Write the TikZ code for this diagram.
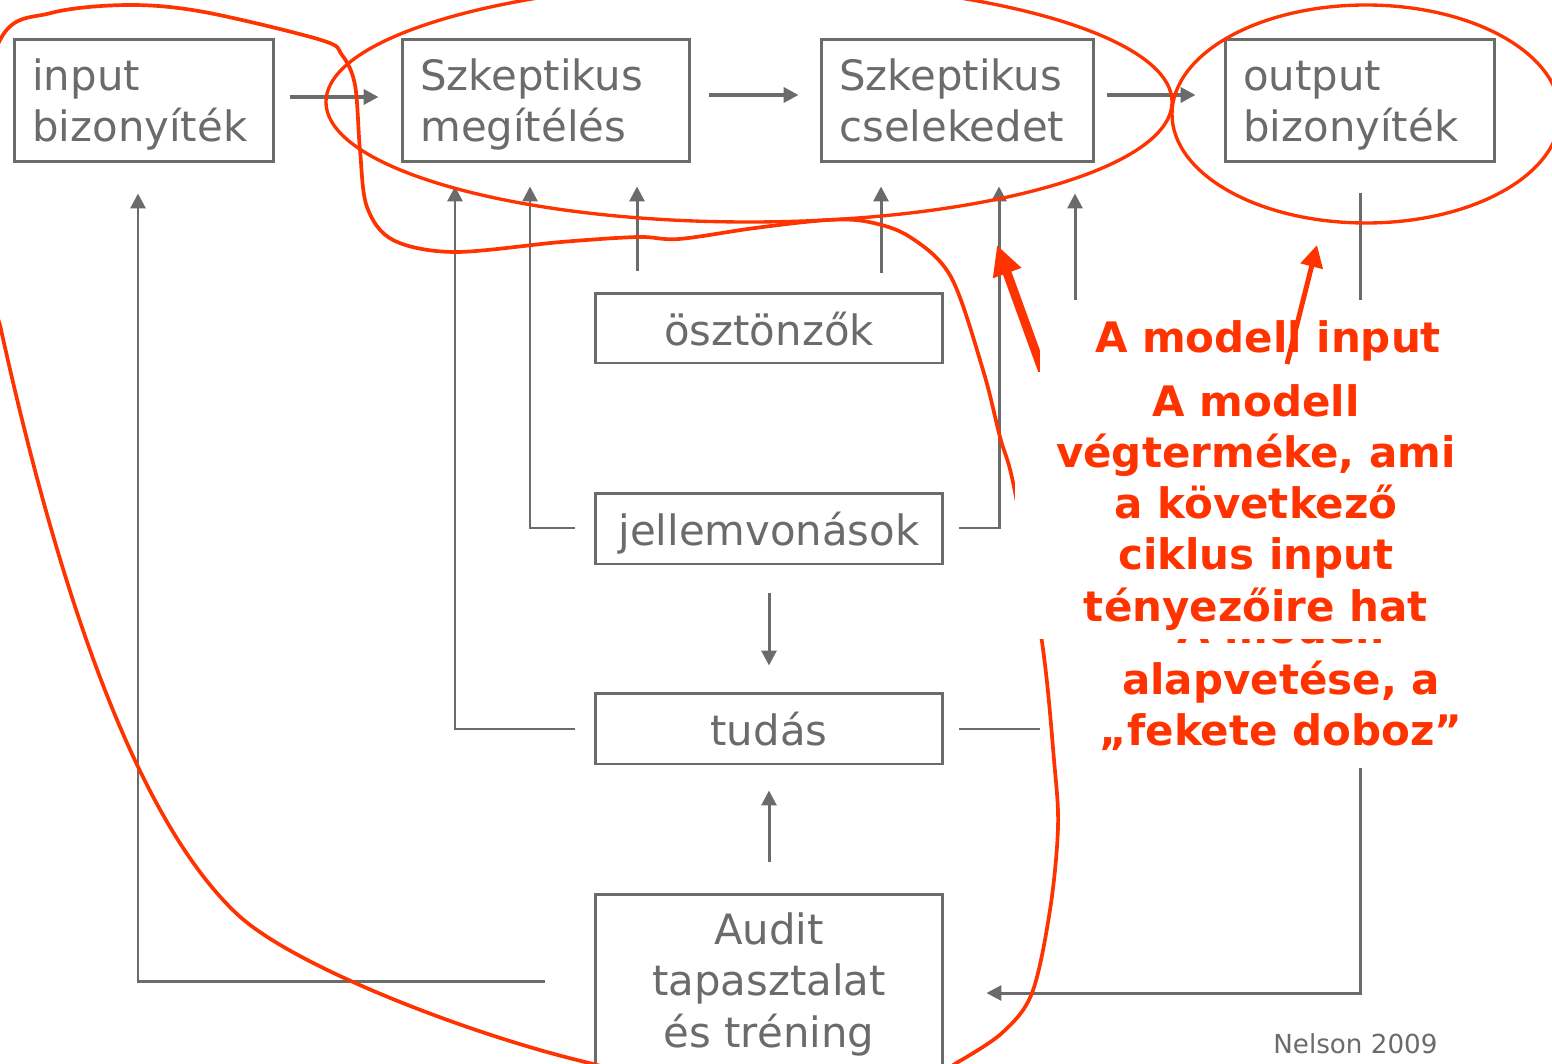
\documentclass[tikz,border=0pt]{standalone}
\usepackage{fontspec}
\setmainfont{DejaVu Sans}
\usetikzlibrary{arrows.meta}
\definecolor{ink}{HTML}{6B6B6B}
\definecolor{hl}{HTML}{FF3300}
\tikzset{
  boxst/.style={draw=ink, line width=1.7pt, inner sep=0pt},
  gtext/.style={text=ink, inner sep=0pt, font=\fontsize{23.8pt}{29.2pt}\selectfont},
  wire/.style={draw=ink, line width=1.7pt},
  link/.style={wire, -{Triangle[length=8.5pt,width=8.5pt]}},
  mainflow/.style={link, line width=2.3pt},
  ring/.style={draw=hl, line width=1.9pt},
  rtext/.style={text=hl, inner sep=0pt, align=center,
    font=\bfseries\fontsize{23.9pt}{29.05pt}\selectfont},
  bigpointer/.style={draw=hl, line width=5.1pt, -{Triangle[length=17pt,width=16pt]}},
  smallpointer/.style={draw=hl, line width=2.8pt, -{Triangle[length=12.5pt,width=12.5pt]}}
}
\begin{document}
\begin{tikzpicture}[x=0.02cm, y=-0.02cm]
\clip (0,0) rectangle (1552,1064);
\fill[white] (0,0) rectangle (1552,1064);

% boxes of the model
\node[boxst, minimum width=5.2cm,  minimum height=2.46cm] (inp) at (144,100.5) {};
\node[boxst, minimum width=5.76cm, minimum height=2.46cm] (jud) at (546,100.5) {};
\node[boxst, minimum width=5.46cm, minimum height=2.46cm] (act) at (957.5,100.5) {};
\node[boxst, minimum width=5.4cm,  minimum height=2.46cm] (out) at (1360,100.5) {};
\node[boxst, minimum width=6.96cm, minimum height=1.4cm]  (inc) at (769,328) {};
\node[boxst, minimum width=6.96cm, minimum height=1.42cm] (tra) at (769,528.5) {};
\node[boxst, minimum width=6.96cm, minimum height=1.42cm] (kno) at (769,728.5) {};
\node[boxst, minimum width=6.96cm, minimum height=4.32cm] (aud) at (769,1002) {};

% box labels (multi-line labels are placed by their last baseline)
\node[gtext, align=left, anchor=base west] (inpT) at (32,142)  {input\\bizonyíték};
\node[gtext, align=left, anchor=base west] (judT) at (420,142) {Szkeptikus\\megítélés};
\node[gtext, align=left, anchor=base west] (actT) at (839,142) {Szkeptikus\\cselekedet};
\node[gtext, align=left, anchor=base west] (outT) at (1243,142) {output\\bizonyíték};
\node[gtext, anchor=base] (incT) at (769,345) {ösztönzők};
\node[gtext, anchor=base] (traT) at (769,545) {jellemvonások};
\node[gtext, anchor=base] (knoT) at (769,745) {tudás};
\node[gtext, align=center, anchor=base] (audT) at (769,1047) {Audit\\tapasztalat\\és tréning};
\node[text=ink, inner sep=0pt, anchor=base west, font=\fontsize{14.9pt}{18pt}\selectfont]
  (src) at (1273,1053) {Nelson 2009};

% main flow
\draw[mainflow] ([shift={(15,-3.5)}]inp.east) -- ([shift={(-22,-3.5)}]jud.west);
\draw[mainflow] ([shift={(18,-5.5)}]jud.east) -- ([shift={(-21,-5.5)}]act.west);
\draw[mainflow] ([shift={(12,-5.5)}]act.east) -- ([shift={(-28,-5.5)}]out.west);

% influences
\draw[link] ([shift={(-132,-21)}]inc.north) -- ([shift={(91,23)}]jud.south);
\draw[link] ([shift={(112,-19)}]inc.north) -- ([shift={(-76.5,23)}]act.south);
\draw[link] ([shift={(-19,-0.5)}]tra.west) -| ([shift={(-16,23)}]jud.south);
\draw[link] ([shift={(15,-0.5)}]tra.east) -| ([shift={(41.5,23)}]act.south);
\draw[link] ([shift={(-19,0.5)}]kno.west) -| ([shift={(-91,23)}]jud.south);
\draw[link] ([shift={(15,0.5)}]kno.east) -| ([shift={(117.5,30)}]act.south);
\draw[link] ([shift={(-49,-21)}]aud.west) -| ([shift={(-6,30)}]inp.south);
\draw[link] ([shift={(0,28)}]tra.south) -- ([shift={(0,-26)}]kno.north);
\draw[link] ([shift={(0,-31)}]aud.north) -- ([shift={(0,25)}]kno.south);
\draw[link] ([shift={(0,30)}]out.south) |- ([shift={(42,-9)}]aud.east);

% lower note, partly covered
\fill[white] (1040,600) rectangle (1522,768);
\node[rtext, anchor=base] (noteC) at (1281,745.5) {A modell\\alapvetése, a\\„fekete doboz”};

% hand-drawn markings
\draw[ring] (749,102) ellipse [x radius=423, y radius=120];
\draw[ring] (1366,114) ellipse [x radius=194, y radius=109];
\draw[ring, line width=2.1pt]
  (0,325) .. controls (44,525) and (120,804) .. (237,914)
  .. controls (290,964) and (457,1030) .. (577,1060)
  .. controls (737,1100) and (848,1134) .. (958,1062)
  plot[smooth, tension=0.55] coordinates {
  (958,1062) (1002,1033) (1032,993) (1050,910) (1058,827) (1054,760)
  (1042,642) (1014,487) (1000,437) (983,370) (951,277) (910,237)
  (869,222) (828,220) (755,228) (679,239) (638,237) (561,242) (454,252)
  (393,240) (367,207) (360,150) (355,85) (342,55) (321,40) (204,12)
  (128,5) (51,13) (0,40) (-35,180) (0,325)};

\coordinate (pA) at (1047,383);
\coordinate (pAtip) at (997,245);
\draw[bigpointer] (pA) -- (pAtip);

% upper notes
\fill[white] (1040,300) rectangle (1496,372);
\node[rtext, anchor=base] (noteA) at (1268,353) {A modell input};
\fill[white] (1015,372) rectangle (1497,639);
\node[rtext, anchor=base] (noteB) at (1256,621)
  {A modell\\végterméke, ami\\a következő\\ciklus input\\tényezőire hat};

\coordinate (pB) at (1287,364);
\coordinate (pBtip) at (1317,245);
\draw[smallpointer] (pB) -- (pBtip);
\end{tikzpicture}
\end{document}
